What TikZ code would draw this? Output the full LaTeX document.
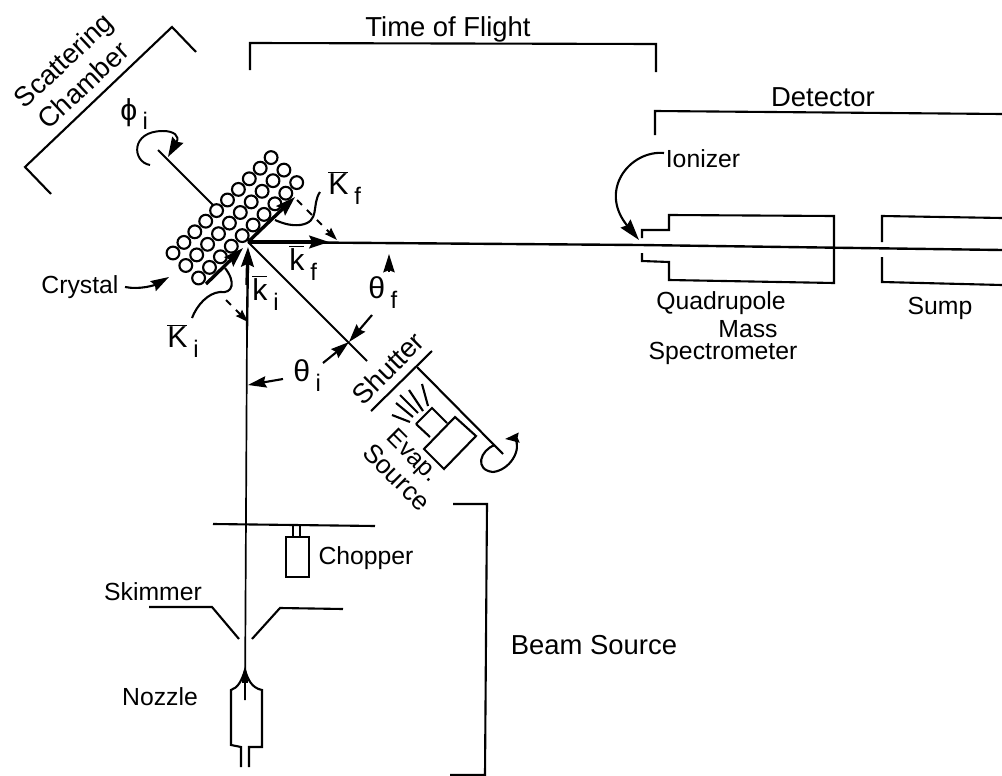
\documentclass[tikz,border=0pt]{standalone}
\usepackage{fontspec}
\setmainfont{Liberation Sans}
\usetikzlibrary{arrows.meta,calc}
\newcommand{\barsym}[2]{$\overline{\mbox{#1}}$\hspace{.2em}\raisebox{-.62ex}{\fontsize{17}{17}\selectfont #2}}
\newcommand{\subsym}[2]{#1\hspace{.18em}\raisebox{-.62ex}{\fontsize{17}{17}\selectfont #2}}
\tikzset{
  lab/.style={font=\fontsize{17.6}{22}\selectfont,inner sep=0pt},
  biglab/.style={font=\fontsize{19.5}{24}\selectfont,inner sep=0pt},
  symlab/.style={font=\fontsize{21.5}{26}\selectfont,inner sep=0pt},
  part/.style={line width=1.5pt},
  thin part/.style={line width=1.2pt},
  beam/.style={line width=1.7pt},
  thick arrow/.style={line width=2.4pt,-{Stealth[length=14pt,width=9pt,inset=2pt]}},
  small arrow/.style={line width=1.5pt,-{Stealth[length=13pt,width=8pt,inset=1.5pt]}},
  dash arrow/.style={line width=1.5pt,dash pattern=on 5pt off 5pt,-{Stealth[length=9pt,width=6pt,inset=1pt]}},
  atom/.style={line width=1.5pt,fill=white}
}
\begin{document}
\begin{tikzpicture}[x=.025cm,y=-.025cm,>=Stealth]
  \useasboundingbox (0,0) rectangle (1002,776);
  % brackets
  \draw[part] (51,194) -- (25,167) -- (172,27) -- (196,52);
  \draw[part] (250,70) -- (250,43) -- (656,44) -- (656,72);
  \draw[part] (655,135) -- (655,111) -- (1002,114);
  \draw[part] (453,504) -- (487,504) -- (485,775) -- (450,775);
  \node[biglab,rotate=43] (scattering) at (65,62) {Scattering};
  \node[biglab,rotate=43] (chamber) at (83,85) {Chamber};
  \node[biglab] (flight) at (448,29) {Time of Flight};
  \node[biglab] (detector) at (823,97) {Detector};
  \node[biglab] (beamsource) at (594,645) {Beam Source};
  % crystal
  \draw[part] (158,150) -- (213,205);
  \foreach \r in {0,1,2}
    \foreach \c in {0,...,9}
      \draw[atom] ({173+12.8*\r+10.9*\c},{253+12.5*\r-10.6*\c}) circle (6.4);
  \draw[part,line width=1.4pt,-{Stealth[length=14pt,width=9pt,inset=1.5pt]}] (150,165) .. controls (132,162) and (130,131) .. (163,131)
    .. controls (174,131) and (180,136) .. (168,157);
  \node[symlab,anchor=west] (phi) at (120,114) {\subsym{ϕ}{i}};
  % beam line and vectors
  \draw[beam] (248,242) -- (640,245) -- (1002,250);
  \draw[thin part] (245,700) -- (247,330);
  \draw[beam] (247,330) -- (248,255);
  \draw[thick arrow] (248,242) -- (295,197);
  \draw[thick arrow] (206,284) -- (243,248);
  \draw[thick arrow] (248,242) -- (329,242);
  \draw[thick arrow] (247,285) -- (248,247);
  \draw[dash arrow] (297,200) -- (337,240);
  \draw[dash arrow] (226,300) -- (248,322);
  \draw[part] (248,242) -- (367,361);
  \node[symlab,anchor=west] (kfup) at (328,188) {\barsym{K}{f}};
  \node[symlab,anchor=west] (kiup) at (167,341) {\barsym{K}{i}};
  \node[symlab,anchor=west] (kfdown) at (289,263) {\barsym{k}{f}};
  \node[symlab,anchor=west] (kidown) at (252,293) {\barsym{k}{i}};
  \draw[part] (320,192) .. controls (311,205) and (321,222) .. (300,225)
    .. controls (290,226) and (282,223) .. (275,220);
  \draw[part] (192,318) .. controls (197,305) and (208,293) .. (220,292)
    .. controls (233,294) and (236,282) .. (225,268);
  % angles
  \draw[small arrow] (389,272) -- (389,254);
  \draw[small arrow] (372,315) -- (349,342);
  \draw[small arrow] (323,363) -- (349,342);
  \draw[small arrow] (283,379) -- (248,385);
  \node[symlab,anchor=west] (thetaf) at (368,293) {\subsym{θ}{f}};
  \node[symlab,anchor=west] (thetai) at (293,376) {\subsym{θ}{i}};
  % evaporation source
  \draw[part] (371,411) -- (432,351);
  \draw[part] (417,367) -- (503,454);
  \draw[part] (416,424) -- (432,408) -- (447,423);
  \draw[part] (416,424) -- (430,437);
  \draw[part] (424,449) -- (455,417) -- (476,436) -- (444,469) -- cycle;
  \draw[part] (392,415) -- (410,422);
  \draw[part] (396,403) -- (413,417);
  \draw[part] (400,395) -- (418,413);
  \draw[part] (409,390) -- (423,411);
  \draw[part] (422,384) -- (428,406);
  \draw[part,-{Stealth[length=10pt,width=7pt,inset=1pt]}] (495,445) .. controls (480,450) and (474,470) .. (493,472)
    .. controls (510,470) and (522,450) .. (515,438) -- (505,439);
  \node[biglab,rotate=45] (shutter) at (388,368) {Shutter};
  \node[lab,rotate=-45] (evap) at (412,457) {Evap.};
  \node[lab,rotate=-45,font=\fontsize{18.6}{22}\selectfont] (source) at (397,477) {Source};
  % chopper, skimmer, nozzle
  \draw[part] (213,524) -- (375,526);
  \draw[thin part] (293,525) -- (293,537);
  \draw[thin part] (300,525) -- (300,537);
  \draw[part] (286,537) rectangle (309,577);
  \draw[part] (149,607) -- (212,607) -- (239,639);
  \draw[part] (252,639) -- (280,608) -- (343,609);
  \draw[thin part,fill=black] (245,670) .. controls (243,676) and (243,680) .. (243,682)
    -- (247,682) .. controls (247,680) and (247,676) .. (245,670);
  \draw[part] (241,767) -- (241,747) -- (231,745) -- (231,690)
    .. controls (238,688) and (242,680) .. (245,670)
    .. controls (248,680) and (252,688) .. (262,690)
    -- (262,747) -- (249,747) -- (249,767);
  \node[lab] (chopper) at (366,558) {Chopper};
  \node[lab] (skimmer) at (153,592) {Skimmer};
  \node[lab] (nozzle) at (160,697) {Nozzle};
  \node[lab] (crystal) at (80,287) {Crystal};
  \draw[part,-{Stealth[length=13pt,width=8pt,inset=1.5pt]}] (125,287) .. controls (140,290) and (155,285) .. (169,277);
  % detector
  \draw[part] (642,238) -- (642,230) -- (669,230) -- (669,215) -- (834,216)
    -- (834,283) -- (669,280) -- (669,262) -- (642,261) -- (642,253);
  \draw[part] (1002,218) -- (882,216) -- (882,242);
  \draw[part] (882,257) -- (882,282) -- (1002,285);
  \node[lab] (ionizer) at (703,159) {Ionizer};
  \draw[part,-{Stealth[length=15pt,width=9pt,inset=1.5pt]}] (664,153) .. controls (630,150) and (598,190) .. (639,240);
  \node[lab] (quadrupole) at (721,303) {Quadrupole};
  \node[lab] (mass) at (748,329) {Mass};
  \node[lab] (spectrometer) at (723,353) {Spectrometer};
  \node[lab] (sump) at (940,308) {Sump};
\end{tikzpicture}
\end{document}
